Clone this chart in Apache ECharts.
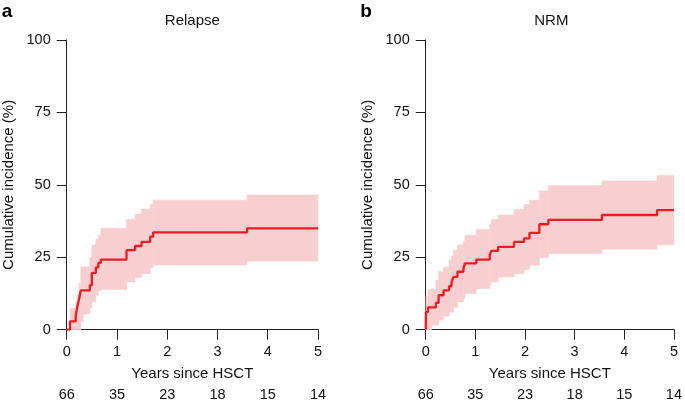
<!DOCTYPE html>
<html>
<head>
<meta charset="utf-8">
<script src="https://cdn.jsdelivr.net/npm/echarts@6/dist/echarts.min.js"></script>
<style>
html,body{margin:0;padding:0;background:#fff;}
#chart{width:685px;height:406px;}
</style>
</head>
<body>
<div id="chart"></div>
<script>
// ---- Data ----
const panelTitles = ['Relapse', 'NRM'];
const panelLetters = ['a', 'b'];
const xTicks = [0, 1, 2, 3, 4, 5];
const yTicks = [0, 25, 50, 75, 100];
const riskRelapse = [66, 35, 23, 18, 15, 14];
const riskNRM = [66, 35, 23, 18, 15, 14];

// Relapse: time (years), estimate, lower CI, upper CI (%)
const relTime = [0, 0.066, 0.18, 0.21, 0.245, 0.28, 0.33, 0.46, 0.50, 0.58, 0.63, 0.68, 1.19, 1.36, 1.49, 1.66, 1.72, 3.59, 5.0];
const relEst  = [0, 2.9, 4.7, 7.9, 10.4, 13.6, 13.6, 15.3, 19.6, 21.5, 23.1, 24.2, 27.5, 28.9, 30.3, 32.1, 33.6, 35.0, 35.0];
const relLo   = [0, 0, 0, 0, 0, 2.7, 5.4, 7.5, 9.6, 11.9, 13.4, 13.9, 16.5, 18.0, 19.4, 21.5, 22.3, 23.7, 23.7];
const relHi   = [0, 7.3, 9.5, 12.0, 16.0, 21.7, 21.7, 25.0, 29.2, 31.2, 32.6, 35.0, 38.1, 39.9, 41.6, 43.2, 44.7, 46.5, 46.5];

// NRM: time (years), estimate, lower CI, upper CI (%)
const nrmTime = [0, 0.005, 0.046, 0.125, 0.205, 0.26, 0.36, 0.47, 0.52, 0.56, 0.64, 0.76, 0.79, 1.02, 1.29, 1.32, 1.46, 1.78, 1.98, 2.09, 2.29, 2.47, 3.55, 4.66, 5.0];
const nrmEst  = [0, 6.1, 7.7, 7.7, 9.3, 11.9, 13.6, 15.0, 16.5, 18.2, 20.0, 21.1, 22.9, 24.2, 25.7, 27.2, 28.6, 30.3, 31.5, 33.4, 36.4, 37.9, 39.6, 41.3, 41.3];
const nrmLo   = [0, 0, 0, 1.6, 1.6, 3.3, 4.7, 6.1, 6.1, 7.7, 9.6, 10.8, 12.5, 14.2, 15.5, 16.5, 18.2, 19.4, 20.8, 22.3, 24.9, 26.3, 27.8, 29.3, 29.3];
const nrmHi   = [0, 11.5, 13.9, 13.9, 17.1, 20.0, 21.5, 24.0, 25.5, 27.5, 29.2, 30.5, 32.6, 34.6, 36.5, 38.1, 39.6, 41.5, 43.2, 44.7, 47.9, 49.7, 51.3, 53.2, 53.2];

// ---- Styling ----
const FONT = 'Liberation Sans, Arial, Helvetica, sans-serif';
const AXIS_COLOR = '#222';
const LINE_COLOR = '#ec1c24';
const BAND_COLOR = '#f8cfd0';

const grids = [
  {left: 66.7, top: 40, width: 251.3, height: 289.7},
  {left: 425.7, top: 40, width: 251.3, height: 289.7}
];

function pairs(t, v) { return t.map((x, i) => [x, v[i]]); }
// step segments of the confidence band: [t_start, t_end, lower, upper]
function bandSegs(t, lo, hi) {
  const out = [];
  for (let i = 0; i < t.length - 1; i++) out.push([t[i], t[i + 1], lo[i], hi[i]]);
  return out;
}

const xAxes = [], yAxes = [], series = [];
const panels = [
  {t: relTime, est: relEst, lo: relLo, hi: relHi, risk: riskRelapse},
  {t: nrmTime, est: nrmEst, lo: nrmLo, hi: nrmHi, risk: riskNRM}
];

panels.forEach((p, k) => {
  xAxes.push({
    type: 'value', gridIndex: k, min: xTicks[0], max: xTicks[xTicks.length - 1], interval: 1,
    name: 'Years since HSCT', nameLocation: 'middle', nameGap: 37,
    nameTextStyle: {fontFamily: FONT, fontSize: 15, color: '#111'},
    axisLine: {show: true, lineStyle: {color: AXIS_COLOR, width: 1}},
    axisTick: {show: true, length: 10, lineStyle: {color: AXIS_COLOR, width: 1}},
    axisLabel: {margin: 15, fontFamily: FONT, fontSize: 14.5, color: '#111'},
    splitLine: {show: false}
  });
  const risk = p.risk;
  xAxes.push({
    type: 'value', gridIndex: k, min: xTicks[0], max: xTicks[xTicks.length - 1], interval: 1,
    position: 'bottom',
    axisLine: {show: false}, axisTick: {show: false}, splitLine: {show: false},
    axisLabel: {margin: 58, fontFamily: FONT, fontSize: 14.5, color: '#111',
      formatter: v => { const i = xTicks.indexOf(v); return i >= 0 ? String(risk[i]) : ''; }}
  });
  yAxes.push({
    type: 'value', gridIndex: k, min: 0, max: 100, interval: 25,
    name: 'Cumulative incidence (%)', nameLocation: 'middle', nameGap: 50, nameRotate: 90,
    nameTextStyle: {fontFamily: FONT, fontSize: 15, color: '#111'},
    axisLine: {show: true, lineStyle: {color: AXIS_COLOR, width: 1}},
    axisTick: {show: true, length: 10, lineStyle: {color: AXIS_COLOR, width: 1}},
    axisLabel: {margin: 16, fontFamily: FONT, fontSize: 14.5, color: '#111'},
    splitLine: {show: false}
  });
  const xi = k * 2;
  series.push({
    type: 'custom', xAxisIndex: xi, yAxisIndex: k, silent: true, z: 1,
    data: bandSegs(p.t, p.lo, p.hi),
    encode: {x: [0, 1], y: [2, 3]},
    renderItem: function (params, api) {
      const a = api.coord([api.value(0), api.value(3)]);
      const b = api.coord([api.value(1), api.value(2)]);
      return {
        type: 'rect',
        shape: {x: a[0], y: a[1], width: b[0] - a[0], height: b[1] - a[1]},
        style: {fill: BAND_COLOR, stroke: BAND_COLOR, lineWidth: 0.6}
      };
    }
  });
  series.push({
    type: 'line', xAxisIndex: xi, yAxisIndex: k, step: 'end',
    data: pairs(p.t, p.est), showSymbol: false, silent: true,
    lineStyle: {width: 2.3, color: LINE_COLOR}, z: 3
  });
});

const graphics = [];
panelTitles.forEach((title, k) => {
  const g = grids[k];
  graphics.push({type: 'text', x: g.left + g.width / 2, y: 21,
    style: {text: title, fontFamily: FONT, fontSize: 15, fill: '#111', textAlign: 'center', textVerticalAlign: 'middle'}});
});
[7, 366].forEach((x, k) => {
  graphics.push({type: 'text', x: x, y: 12,
    style: {text: panelLetters[k], fontFamily: FONT, fontSize: 19, fontWeight: 'bold', fill: '#000', textAlign: 'center', textVerticalAlign: 'middle'}});
});

const chart = echarts.init(document.getElementById('chart'), null, {renderer: 'canvas'});
chart.setOption({
  animation: false,
  backgroundColor: '#fff',
  textStyle: {fontFamily: FONT},
  grid: grids,
  xAxis: xAxes,
  yAxis: yAxes,
  series: series,
  graphic: graphics
});
</script>
</body>
</html>
